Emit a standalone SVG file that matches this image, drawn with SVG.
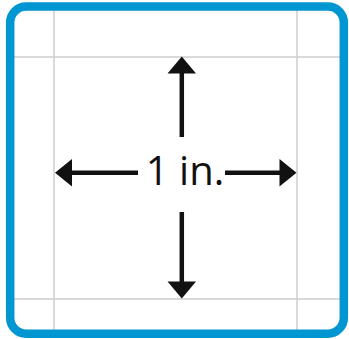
<svg xmlns="http://www.w3.org/2000/svg" width="349" height="339" viewBox="0 0 349 339">
<style>
.grid{stroke:#cccccc;stroke-width:1.5;fill:none}
.shaft{stroke:#111111;stroke-width:4.5;fill:none}
.head{fill:#111111}
.label{font-family:"Open Sans",sans-serif;font-size:40px;fill:#111111}
</style>
<rect width="349" height="339" fill="#ffffff"/>
<g id="grid">
<line class="grid" x1="54" y1="8" x2="54" y2="334"/>
<line class="grid" x1="297" y1="8" x2="297" y2="334"/>
<line class="grid" x1="12" y1="57" x2="342" y2="57"/>
<line class="grid" x1="12" y1="299" x2="342" y2="299"/>
</g>
<rect id="border" x="10.2" y="6.5" width="333.6" height="327.3" rx="16" ry="16" fill="none" stroke="#0096d2" stroke-width="8.5"/>
<g id="connectors">
<line class="shaft" x1="181.8" y1="72" x2="181.8" y2="137"/>
<polygon class="head" points="181.8,56.5 167.5,73.5 196,73.5"/>
<line class="shaft" x1="181.8" y1="212" x2="181.8" y2="283"/>
<polygon class="head" points="181.8,298.5 167.5,281.5 196,281.5"/>
<line class="shaft" x1="71" y1="172.7" x2="138" y2="172.7"/>
<polygon class="head" points="55,172.7 72,159 72,186.5"/>
<line class="shaft" x1="225" y1="172.7" x2="281" y2="172.7"/>
<polygon class="head" points="296.5,172.7 279.5,159 279.5,186.5"/>
</g>
<g id="label">
<text class="label" x="185" y="184.5" text-anchor="middle">1 in.</text>
</g>
</svg>
